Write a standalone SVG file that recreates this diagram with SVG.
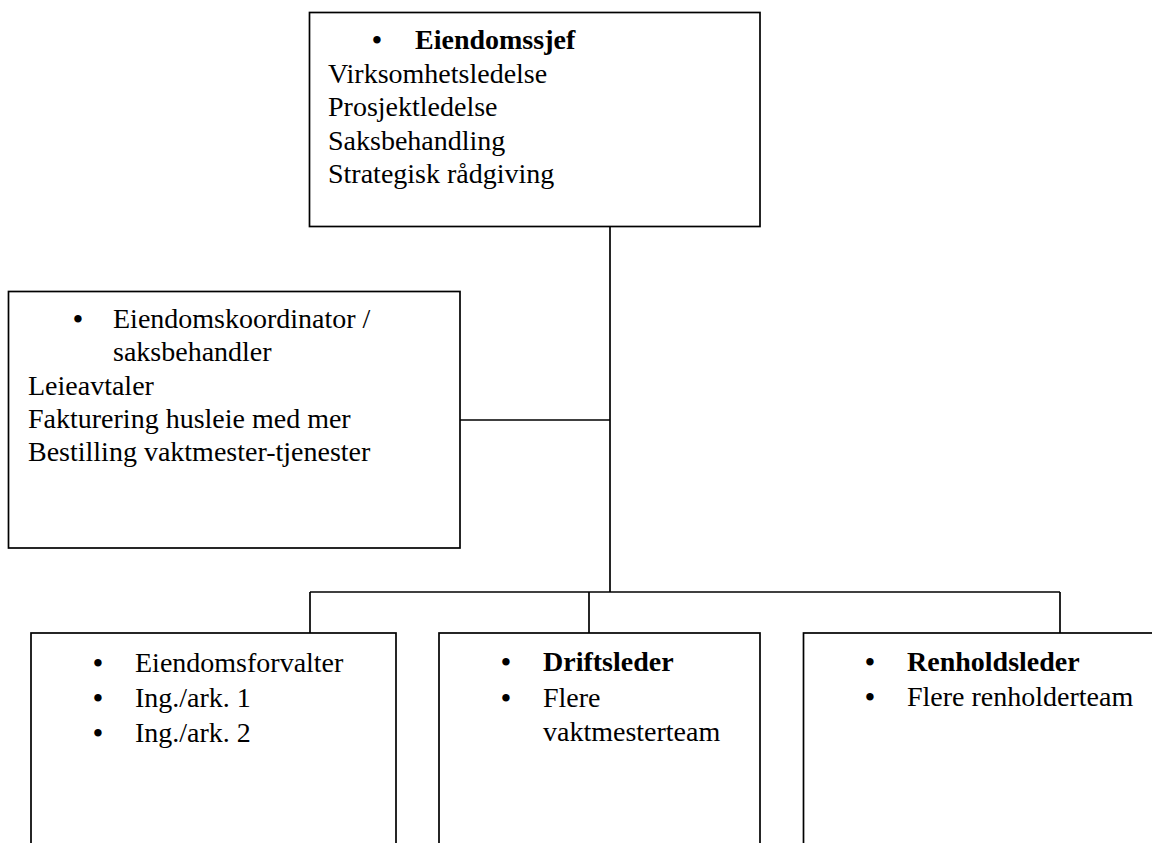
<svg xmlns="http://www.w3.org/2000/svg" width="1152" height="843" viewBox="0 0 1152 843">
<style>
.box{fill:#fff;stroke:#000;stroke-width:1.7}
.con{fill:none;stroke:#000;stroke-width:1.7}
text{font-family:"Liberation Serif","Times New Roman",serif;font-size:28px;fill:#000}
.b{font-weight:bold}
.bul{text-anchor:middle;font-size:31px}
</style>
<rect width="1152" height="843" fill="#fff"/>
<g id="connectors">
<line class="con" x1="610" y1="226.5" x2="610" y2="592"/>
<line class="con" x1="460" y1="420" x2="610" y2="420"/>
<line class="con" x1="310" y1="592" x2="1060" y2="592"/>
<line class="con" x1="310" y1="592" x2="310" y2="633"/>
<line class="con" x1="589" y1="592" x2="589" y2="633"/>
<line class="con" x1="1060" y1="592" x2="1060" y2="633"/>
</g>
<g id="eiendomssjef">
<rect class="box" x="309.5" y="12.5" width="450.5" height="214"/>
<text class="bul" x="377" y="51.3">•</text>
<text class="b" x="415" y="49.3">Eiendomssjef</text>
<text x="328" y="82.7">Virksomhetsledelse</text>
<text x="328" y="116.1">Prosjektledelse</text>
<text x="328" y="149.5">Saksbehandling</text>
<text x="328" y="183">Strategisk rådgiving</text>
</g>
<g id="koordinator">
<rect class="box" x="8.5" y="291.5" width="451.5" height="256.5"/>
<text class="bul" x="78" y="329.5">•</text>
<text x="113" y="327.5">Eiendomskoordinator /</text>
<text x="113" y="361">saksbehandler</text>
<text x="28" y="394.5">Leieavtaler</text>
<text x="28" y="428">Fakturering husleie med mer</text>
<text x="28" y="461">Bestilling vaktmester-tjenester</text>
</g>
<g id="forvalter">
<rect class="box" x="31" y="633" width="365" height="260"/>
<text class="bul" x="98" y="673.5">•</text>
<text x="135" y="671.5">Eiendomsforvalter</text>
<text class="bul" x="98" y="708.8">•</text>
<text x="135" y="706.8">Ing./ark. 1</text>
<text class="bul" x="98" y="744">•</text>
<text x="135" y="742">Ing./ark. 2</text>
</g>
<g id="driftsleder">
<rect class="box" x="439" y="633" width="321" height="260"/>
<text class="bul" x="506" y="673">•</text>
<text class="b" x="543" y="671">Driftsleder</text>
<text class="bul" x="506" y="708.5">•</text>
<text x="543" y="706.5">Flere</text>
<text x="543" y="740.5">vaktmesterteam</text>
</g>
<g id="renholdsleder">
<rect class="box" x="803.5" y="633" width="400" height="260"/>
<text class="bul" x="870" y="673">•</text>
<text class="b" x="907" y="671">Renholdsleder</text>
<text class="bul" x="870" y="708.3">•</text>
<text x="907" y="706.3">Flere renholderteam</text>
</g>
</svg>
